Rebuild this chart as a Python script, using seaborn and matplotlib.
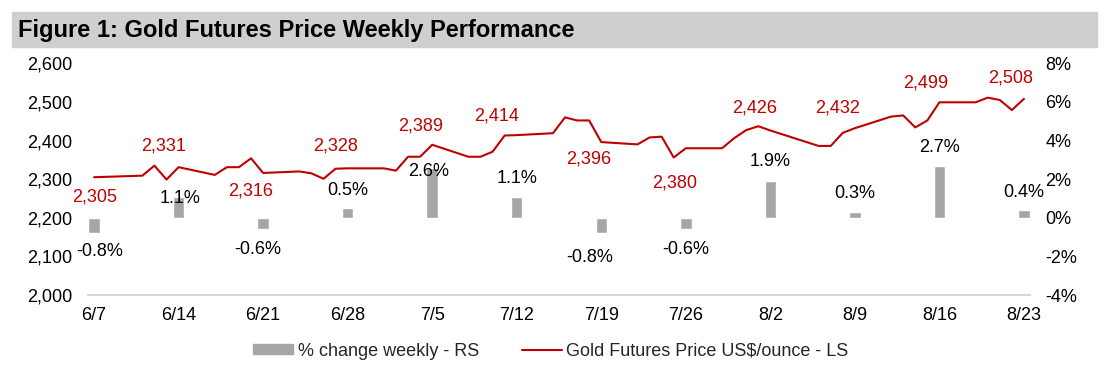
import pandas as pd
import numpy as np
import matplotlib
matplotlib.use("Agg")
import matplotlib.pyplot as plt
import seaborn as sns
from matplotlib.patches import Rectangle
from matplotlib.lines import Line2D
from matplotlib.ticker import FuncFormatter

# daily gold futures price, US$/oz (2024)
price_dates = ["6/7", "6/11", "6/12", "6/13", "6/14", "6/17", "6/18", "6/19", "6/20", "6/21",
               "6/24", "6/25", "6/26", "6/27", "6/28", "7/1", "7/2", "7/3", "7/4", "7/5",
               "7/8", "7/9", "7/10", "7/11", "7/12", "7/15", "7/16", "7/17", "7/18", "7/19",
               "7/22", "7/23", "7/24", "7/25", "7/26", "7/29", "7/30", "7/31", "8/1", "8/2",
               "8/6", "8/7", "8/8", "8/9", "8/12", "8/13", "8/14", "8/15", "8/16",
               "8/19", "8/20", "8/21", "8/22", "8/23"]
price_values = [2305, 2309, 2335, 2299, 2331, 2311, 2331, 2331, 2354, 2316,
                2320, 2315, 2301, 2327, 2328, 2328, 2322, 2358, 2358, 2389,
                2358, 2358, 2371, 2413, 2414, 2419, 2460, 2452, 2452, 2396,
                2390, 2408, 2410, 2356, 2380, 2380, 2406, 2427, 2437, 2426,
                2386, 2386, 2420, 2432, 2462, 2465, 2434, 2452, 2499,
                2499, 2511, 2505, 2479, 2508]

# weekly (Friday) % change
week_dates = ["6/7", "6/14", "6/21", "6/28", "7/5", "7/12", "7/19", "7/26", "8/2", "8/9", "8/16", "8/23"]
week_change = [-0.8, 1.1, -0.6, 0.5, 2.6, 1.1, -0.8, -0.6, 1.9, 0.3, 2.7, 0.4]

# hand nudges for the data labels (pixels), like the manual placement in the source
price_nudge = {"6/7": (1, -20), "6/14": (-15, 21), "6/21": (-12, -18), "6/28": (-12, 22),
               "7/5": (-12, 19), "7/12": (-20, 19), "7/19": (-13, -17), "7/26": (-11, -35),
               "8/2": (-16, 22), "8/9": (-17, 20), "8/16": (-14, 19), "8/23": (-13, 21)}
pct_nudge = {"6/7": (6, -18), "6/14": (1, -2), "6/21": (-5, -20), "7/5": (-4, -4),
             "7/19": (-12, -24), "8/2": (0, 20)}

RED = "#c00000"
GREY = "#a6a6a6"
FS = 13

sns.set_theme(style="white")
plt.rcParams['font.family'] = ['Liberation Sans', 'DejaVu Sans']


def to_dt(s):
    return pd.to_datetime("2024/" + pd.Series(s), format="%Y/%m/%d")


df = pd.DataFrame({"date": to_dt(price_dates), "price": price_values})
weekly = pd.DataFrame({"date": to_dt(week_dates), "change": week_change, "label": week_dates})
weekly = weekly.merge(df, on="date", how="left")

fig = plt.figure(figsize=(11.1, 3.7), dpi=100)
ax = fig.add_axes([88 / 1110, 1 - 295 / 370, (1030 - 88) / 1110, (295 - 63.3) / 370])
ax2 = ax.twinx()

# bars on the right-hand axis
ax2.bar(weekly["date"], weekly["change"], width=0.95, color=GREY, zorder=2)
ax2.set_ylim(-4, 8)
ax2.set_yticks(np.arange(-4, 9, 2))
ax2.yaxis.set_major_formatter(FuncFormatter(lambda v, p: f"{v:.0f}%"))

# price line on the left-hand axis, drawn above the bars
sns.lineplot(data=df, x="date", y="price", ax=ax, color=RED, linewidth=1.5)
ax.set_zorder(ax2.get_zorder() + 1)
ax.patch.set_visible(False)
ax.set_ylim(2000, 2600)
ax.set_yticks(np.arange(2000, 2601, 100))
ax.yaxis.set_major_formatter(FuncFormatter(lambda v, p: f"{v:,.0f}"))
ax.set_xlim(weekly["date"].iloc[0] - pd.Timedelta(hours=12),
            weekly["date"].iloc[-1] + pd.Timedelta(hours=12))
ax.set_xticks(weekly["date"])
ax.set_xticklabels(weekly["label"])
ax.set_xlabel("")
ax.set_ylabel("")

for a in (ax, ax2):
    for s in a.spines.values():
        s.set_visible(False)
ax.spines["bottom"].set_visible(True)
ax.spines["bottom"].set_color("#d9d9d9")
ax.spines["bottom"].set_linewidth(1.5)

ax.tick_params(axis="y", length=0, labelsize=FS, pad=11, colors="black")
ax.tick_params(axis="x", length=0, labelsize=FS, pad=9, colors="black")
ax2.tick_params(axis="y", length=0, labelsize=FS, pad=11, colors="black")

# price labels
for _, r in weekly.iterrows():
    dx, dy = price_nudge.get(r["label"], (-13, 20))
    ax.annotate(f"{r['price']:,.0f}", (r["date"], r["price"]), xytext=(dx, dy),
                textcoords="offset pixels", ha="center", va="center",
                color=RED, fontsize=FS)

# % change labels
for _, r in weekly.iterrows():
    default = (0, 18) if r["change"] >= 0 else (0, -20)
    dx, dy = pct_nudge.get(r["label"], default)
    ax2.annotate(f"{r['change']:.1f}%", (r["date"], r["change"]), xytext=(dx, dy),
                 textcoords="offset pixels", ha="center", va="center",
                 color="black", fontsize=FS)

# title band
fig.patches.append(Rectangle((12 / 1110, 1 - 47 / 370), (1097 - 12) / 1110, 35 / 370,
                             transform=fig.transFigure, color="#d0cece", zorder=0))
fig.text(18 / 1110, 1 - 30 / 370, "Figure 1: Gold Futures Price Weekly Performance",
         fontsize=17, fontweight="bold", va="center", ha="left", color="black")

handles = [Rectangle((0, 0), 1, 1, color=GREY), Line2D([0], [0], color=RED, lw=1.5)]
fig.legend(handles, ["% change weekly - RS", "Gold Futures Price US$/ounce - LS"],
           loc="center", bbox_to_anchor=(551 / 1110, 1 - 351 / 370), ncol=2, frameon=False,
           fontsize=FS, handlelength=2.2, handleheight=0.45, handletextpad=0.25,
           columnspacing=2.4)

fig.savefig("out.png", dpi=100)
